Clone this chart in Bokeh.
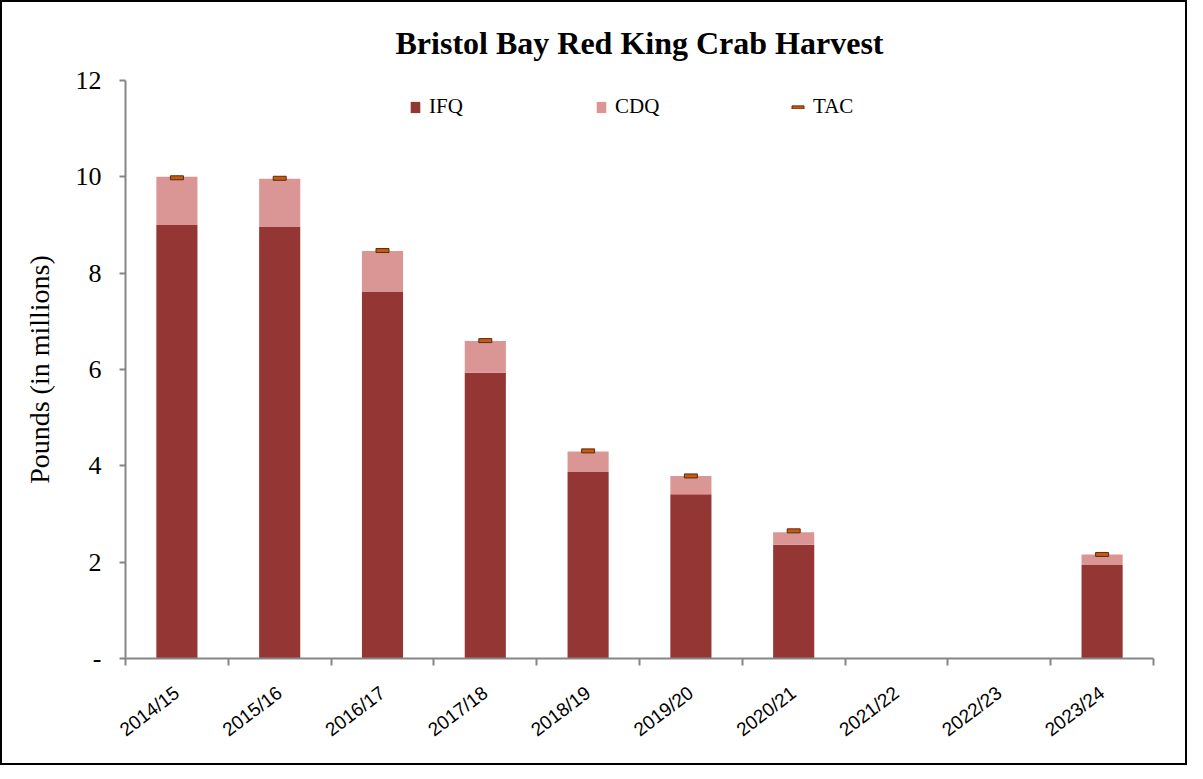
import math
from bokeh.plotting import figure
from bokeh.models import (ColumnDataSource, FixedTicker, Legend, LegendItem, Range1d)
from bokeh.embed import file_html
from bokeh.resources import INLINE

seasons = ["2014/15", "2015/16", "2016/17", "2017/18", "2018/19",
           "2019/20", "2020/21", "2021/22", "2022/23", "2023/24"]
ifq = [9.00, 8.97, 7.62, 5.93, 3.87, 3.41, 2.36, 0.0, 0.0, 1.94]
cdq = [1.00, 0.99, 0.84, 0.66, 0.43, 0.38, 0.26, 0.0, 0.0, 0.22]
tac = [9.98, 9.97, 8.47, 6.60, 4.31, 3.79, 2.65, None, None, 2.16]
y_ticks = [0, 2, 4, 6, 8, 10, 12]

IFQ_COLOR = "#943634"
CDQ_COLOR = "#d99694"
TAC_FILL = "#c55a11"
TAC_LINE = "#5c2a0e"
AXIS_GRAY = "#868686"
SERIF = "Liberation Serif"

idx = list(range(len(seasons)))
tac_x = [i for i, t in zip(idx, tac) if t is not None]
tac_y = [t for t in tac if t is not None]

src = ColumnDataSource(dict(x=idx, IFQ=ifq, CDQ=cdq))
tsrc = ColumnDataSource(dict(x=tac_x, y=tac_y))

p = figure(frame_width=1028, frame_height=578,
           min_border_left=123, min_border_right=32,
           min_border_top=76, min_border_bottom=105,
           x_range=Range1d(-0.5, len(seasons) - 0.5),
           y_range=Range1d(0, 12),
           output_backend="svg", toolbar_location=None,
           title="Bristol Bay Red King Crab Harvest")
p.styles = {"border": "2px solid black"}

p.title.align = "center"
p.title.text_font = SERIF
p.title.text_font_size = "32px"
p.title.text_font_style = "bold"
p.title.text_color = "black"
p.title.standoff = 40

p.outline_line_color = None
p.xgrid.grid_line_color = None
p.ygrid.grid_line_color = None
p.background_fill_color = "white"
p.border_fill_color = "white"

bars = p.vbar_stack(["IFQ", "CDQ"], x="x", width=0.4, source=src,
                    color=[IFQ_COLOR, CDQ_COLOR], line_color=None)
tac_r = p.rect(x="x", y="y", width=13, height=4, width_units="screen",
               height_units="screen", source=tsrc, fill_color=TAC_FILL,
               line_color=TAC_LINE, line_width=1)

# y axis
yax = p.yaxis[0]
yax.ticker = FixedTicker(ticks=y_ticks, minor_ticks=[])
yax.major_label_overrides = {0: "-"}
yax.axis_label = "Pounds (in millions)"
yax.axis_label_text_font = SERIF
yax.axis_label_text_font_size = "28px"
yax.axis_label_text_font_style = "normal"
yax.axis_label_text_color = "black"
yax.axis_label_standoff = 18
yax.major_label_text_font = SERIF
yax.major_label_text_font_size = "26px"
yax.major_label_text_color = "black"
yax.major_label_standoff = 18
yax.axis_line_color = AXIS_GRAY
yax.axis_line_width = 2
yax.major_tick_line_color = AXIS_GRAY
yax.major_tick_line_width = 2
yax.major_tick_out = 6
yax.major_tick_in = 0

# x axis
xax = p.xaxis[0]
xax.ticker = FixedTicker(ticks=idx, minor_ticks=[i - 0.5 for i in range(len(seasons) + 1)])
xax.major_label_overrides = {i: s for i, s in zip(idx, seasons)}
xax.major_label_orientation = math.radians(37)
xax.major_label_text_font = "Liberation Sans"
xax.major_label_text_font_size = "19px"
xax.major_label_text_color = "black"
xax.major_label_standoff = 25
xax.axis_line_color = AXIS_GRAY
xax.axis_line_width = 2
xax.major_tick_out = 0
xax.major_tick_in = 0
xax.minor_tick_line_color = AXIS_GRAY
xax.minor_tick_line_width = 2
xax.minor_tick_out = 7
xax.minor_tick_in = 0


def add_legend(label, renderer, loc, gw, gh):
    lg = Legend(items=[LegendItem(label=label, renderers=[renderer])],
                location=loc, orientation="horizontal",
                glyph_width=gw, glyph_height=gh, label_standoff=8,
                padding=0, margin=0, spacing=0,
                border_line_color=None, background_fill_alpha=0,
                label_text_font=SERIF, label_text_font_size="21px",
                label_text_color="black")
    p.add_layout(lg)


add_legend("IFQ", bars[0], (284, 539), 12, 14)
add_legend("CDQ", bars[1], (470, 539), 12, 14)
add_legend("TAC", tac_r, (665, 539), 15, 4)

open("out.html", "w").write(file_html(p, INLINE))
